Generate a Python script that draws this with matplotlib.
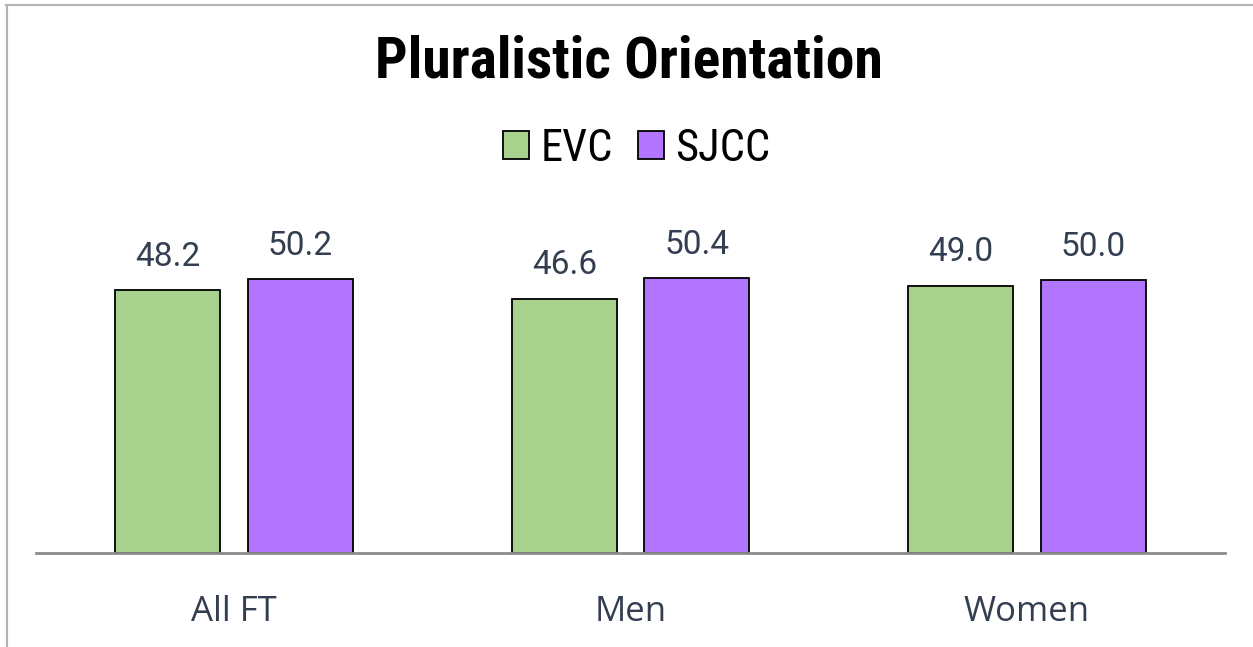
import numpy as np
import matplotlib.pyplot as plt
from matplotlib.patches import Patch
from matplotlib.lines import Line2D

# data
categories = ["All FT", "Men", "Women"]
series_names = ["EVC", "SJCC"]
evc = [48.2, 46.6, 49.0]
sjcc = [50.2, 50.4, 50.0]

colors = ["#a9d18e", "#b175ff"]
text_col = "#333f50"
narrow = ["Roboto Condensed", "DejaVu Sans"]

W, H = 1253, 647
fig = plt.figure(figsize=(W / 100, H / 100), dpi=100)

# axes placed in pixel terms: baseline at y=553, x from 36 to 1225
ax = fig.add_axes([36 / W, (H - 553) / H, (1225 - 36) / W, (553 - 200) / H])
x = np.arange(len(categories))
bw = 0.265
off = 0.167
b1 = ax.bar(x - off, evc, bw, color=colors[0], edgecolor="black", linewidth=1.3, zorder=2)
b2 = ax.bar(x + off, sjcc, bw, color=colors[1], edgecolor="black", linewidth=1.3, zorder=2)

for bars in (b1, b2):
    for r in bars:
        ax.text(r.get_x() + r.get_width() / 2, r.get_height() + 3.2, "%.1f" % r.get_height(),
                ha="center", va="bottom", fontsize=24, color=text_col, family="Roboto")

ax.set_xlim(-0.5, 2.5)
ax.set_ylim(0, 64.7)
ax.set_yticks([])
ax.set_xticks(x)
ax.set_xticklabels(categories, fontsize=25, color=text_col, family="Open Sans")
ax.tick_params(axis="x", length=0, pad=30)
for s in ["top", "right", "left"]:
    ax.spines[s].set_visible(False)
ax.spines["bottom"].set_color("#8c8c8c")
ax.spines["bottom"].set_linewidth(2)
ax.spines["bottom"].set_zorder(3)

fig.text(0.502, 1 - 62 / H, "Pluralistic Orientation", ha="center", va="center",
         fontsize=41.5, fontweight="bold", family=narrow)

handles = [Patch(facecolor=c, edgecolor="black", linewidth=1.3) for c in colors]
leg = fig.legend(handles, series_names, loc="center", bbox_to_anchor=(0.508, 1 - 149 / H),
                 ncol=2, frameon=False, handlelength=0.6, handleheight=0.6,
                 handletextpad=0.25, columnspacing=0.56,
                 prop={"family": narrow, "size": 32})

# outer chart border (top and left visible)
fig.add_artist(Line2D([6 / W, 1], [1 - 5 / H, 1 - 5 / H], color="#b4b4b4", linewidth=1.5))
fig.add_artist(Line2D([6.5 / W, 6.5 / W], [0, 1 - 5 / H], color="#b4b4b4", linewidth=1.5))

fig.savefig("out.png", dpi=100)
